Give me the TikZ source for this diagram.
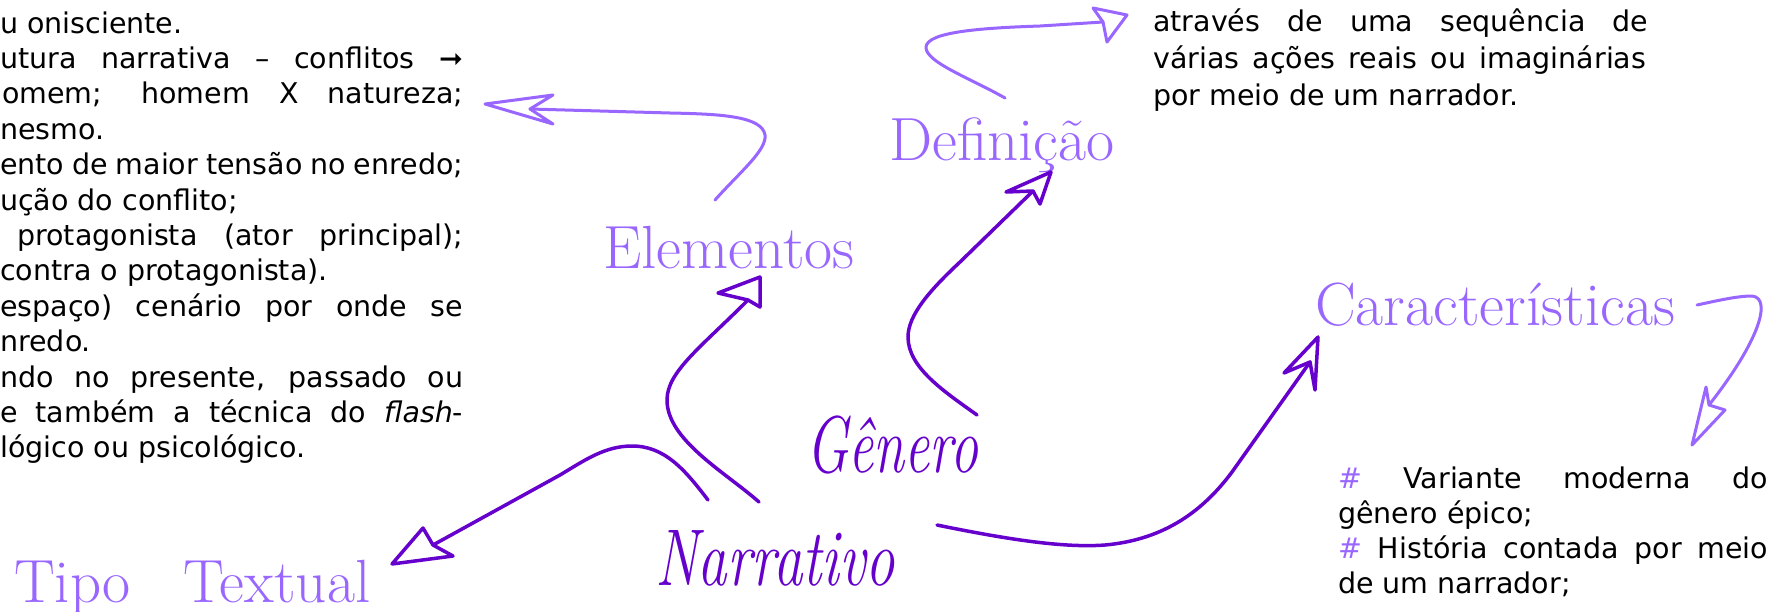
\documentclass[tikz,border=0pt]{standalone}
\usepackage{fontspec}
\usepackage{graphicx}
\newfontfamily\bodyfont{DejaVu Sans}
\definecolor{dark}{HTML}{6600CC}
\definecolor{light}{HTML}{9966FF}
\tikzset{
  body/.style={font=\bodyfont\fontsize{28.5}{34}\selectfont, text=black, inner sep=0pt, anchor=base west},
  title/.style={font=\fontsize{61}{66}\selectfont, text=light, inner sep=0pt, anchor=base west},
  script/.style={font=\itshape\fontsize{70}{70}\selectfont, text=dark, inner sep=0pt, anchor=base west},
  conn/.style={draw=dark, line width=3.5pt, line cap=round, line join=round},
  lconn/.style={draw=light, line width=3pt, line cap=round, line join=round}
}
\newcommand{\jl}[2]{\makebox[#1][s]{#2}}
\begin{document}
\begin{tikzpicture}[x=1pt,y=-1pt]
\fill[white] (0,0) rectangle (1779,611);
\useasboundingbox (0,0) rectangle (1779,611);

% left text block
\node[body] (l1) at (0,33) {u onisciente.};
\node[body] (l2) at (0,68.4) {\jl{463pt}{utura narrativa – conflitos ➞}};
\node[body] (l3) at (2,103.8) {\jl{461pt}{omem; homem X natureza;}};
\node[body] (l4) at (0,139.2) {nesmo.};
\node[body] (l5) at (0,174.6) {\jl{463pt}{ento de maior tensão no enredo;}};
\node[body] (l6) at (0,210) {ução do conflito;};
\node[body] (l7) at (17,245.4) {\jl{446pt}{protagonista (ator principal);}};
\node[body] (l8) at (0,280.8) {contra o protagonista).};
\node[body] (l9) at (0,316.2) {\jl{463pt}{espaço) cenário por onde se}};
\node[body] (l10) at (0,351.6) {nredo.};
\node[body] (l11) at (0,387) {\jl{463pt}{ndo no presente, passado ou}};
\node[body] (l12) at (0,422.4) {\jl{463pt}{e também a técnica do \textit{flash}-}};
\node[body] (l13) at (0,457.8) {lógico ou psicológico.};

% top right text block
\node[body] (d1) at (1153,31) {\jl{495pt}{através de uma sequência de}};
\node[body] (d2) at (1153,68) {\jl{493pt}{várias ações reais ou imaginárias}};
\node[body] (d3) at (1153,105) {por meio de um narrador.};

% bottom right text block
\node[body] (c1) at (1338,488) {\jl{430pt}{{\color{light}\#} Variante moderna do}};
\node[body] (c2) at (1338,523) {gênero épico;};
\node[body] (c3) at (1338,558) {\jl{430pt}{{\color{light}\#} História contada por meio}};
\node[body] (c4) at (1338,593) {de um narrador;};

% titles
\node[title] (elem) at (603,268) {Elementos};
\node[title] (defi) at (889,160) {Definição};
\node[title] (cara) at (1315,325) {Características};
\node[title] (tipo) at (14,602) {Tipo\hspace{53pt}Textual};
\node[script] (gen) at (806,472) {\scalebox{0.8}[1.15]{Gênero}};
\node[script] (nar) at (655,585) {\scalebox{0.84}[1.15]{Narrativo}};

% connector end points
\coordinate (a1s) at (708,500); \coordinate (a1n) at (433,545);
\coordinate (a1t) at (392,564); \coordinate (a1b) at (423,528); \coordinate (a1c) at (453,556);
\coordinate (a2s) at (759,502); \coordinate (a2n) at (748,300);
\coordinate (a2t) at (760,277); \coordinate (a2b) at (718,293); \coordinate (a2c) at (760,307);
\coordinate (a3s) at (977,415); \coordinate (a3n) at (1033,191);
\coordinate (a3t) at (1051,172); \coordinate (a3b) at (1006,192); \coordinate (a3c) at (1040,204);
\coordinate (a4s) at (937,525); \coordinate (a4n) at (1310,362);
\coordinate (a4t) at (1318,337); \coordinate (a4b) at (1284,373); \coordinate (a4c) at (1315,390);
\coordinate (b1s) at (715,200); \coordinate (b1n) at (530,109);
\coordinate (b1t) at (485,104); \coordinate (b1b) at (553,95); \coordinate (b1c) at (553,124);
\coordinate (b2s) at (1005,98); \coordinate (b2n) at (1103,22);
\coordinate (b2t) at (1127,15); \coordinate (b2b) at (1093,8); \coordinate (b2c) at (1107,42);
\coordinate (b3s) at (1697,305); \coordinate (b3n) at (1709,405);
\coordinate (b3t) at (1692,445); \coordinate (b3b) at (1706,387); \coordinate (b3c) at (1725,410);

% dark connectors
\draw[conn] (a1s) .. controls (685,470) and (665,446) .. (632,446)
  .. controls (605,446) and (585,460) .. (560,475) -- (a1n);
\draw[conn] (a1n) -- (a1b) -- (a1t) -- (a1c) -- cycle;
\draw[conn] (a2s) .. controls (725,472) and (667,440) .. (667,400)
  .. controls (667,372) and (700,348) .. (a2n);
\draw[conn] (a2n) -- (a2b) -- (a2t) -- (a2c) -- cycle;
\draw[conn] (a3s) .. controls (945,392) and (908,368) .. (908,337)
  .. controls (908,315) and (930,290) .. (960,262) -- (a3n);
\draw[conn] (a3n) -- (a3b) -- (a3t) -- (a3c) -- cycle;
\draw[conn] (a4s) .. controls (1010,540) and (1065,548) .. (1105,545)
  .. controls (1160,540) and (1200,515) .. (1232,472) -- (a4n);
\draw[conn] (a4n) -- (a4b) -- (a4t) -- (a4c) -- cycle;

% light connectors
\draw[lconn] (b1s) .. controls (740,172) and (767,150) .. (765,135)
  .. controls (762,116) and (720,114) .. (670,113) -- (b1n);
\draw[lconn] (b1n) -- (b1b) -- (b1t) -- (b1c) -- cycle;
\draw[lconn] (b2s) .. controls (970,78) and (925,62) .. (926,47)
  .. controls (927,32) and (980,28) .. (1040,26) -- (b2n);
\draw[lconn] (b2n) -- (b2b) -- (b2t) -- (b2c) -- cycle;
\draw[lconn] (b3s) .. controls (1720,300) and (1738,296) .. (1752,296)
  .. controls (1772,298) and (1760,340) .. (b3n);
\draw[lconn] (b3n) -- (b3b) -- (b3t) -- (b3c) -- cycle;
\end{tikzpicture}
\end{document}
